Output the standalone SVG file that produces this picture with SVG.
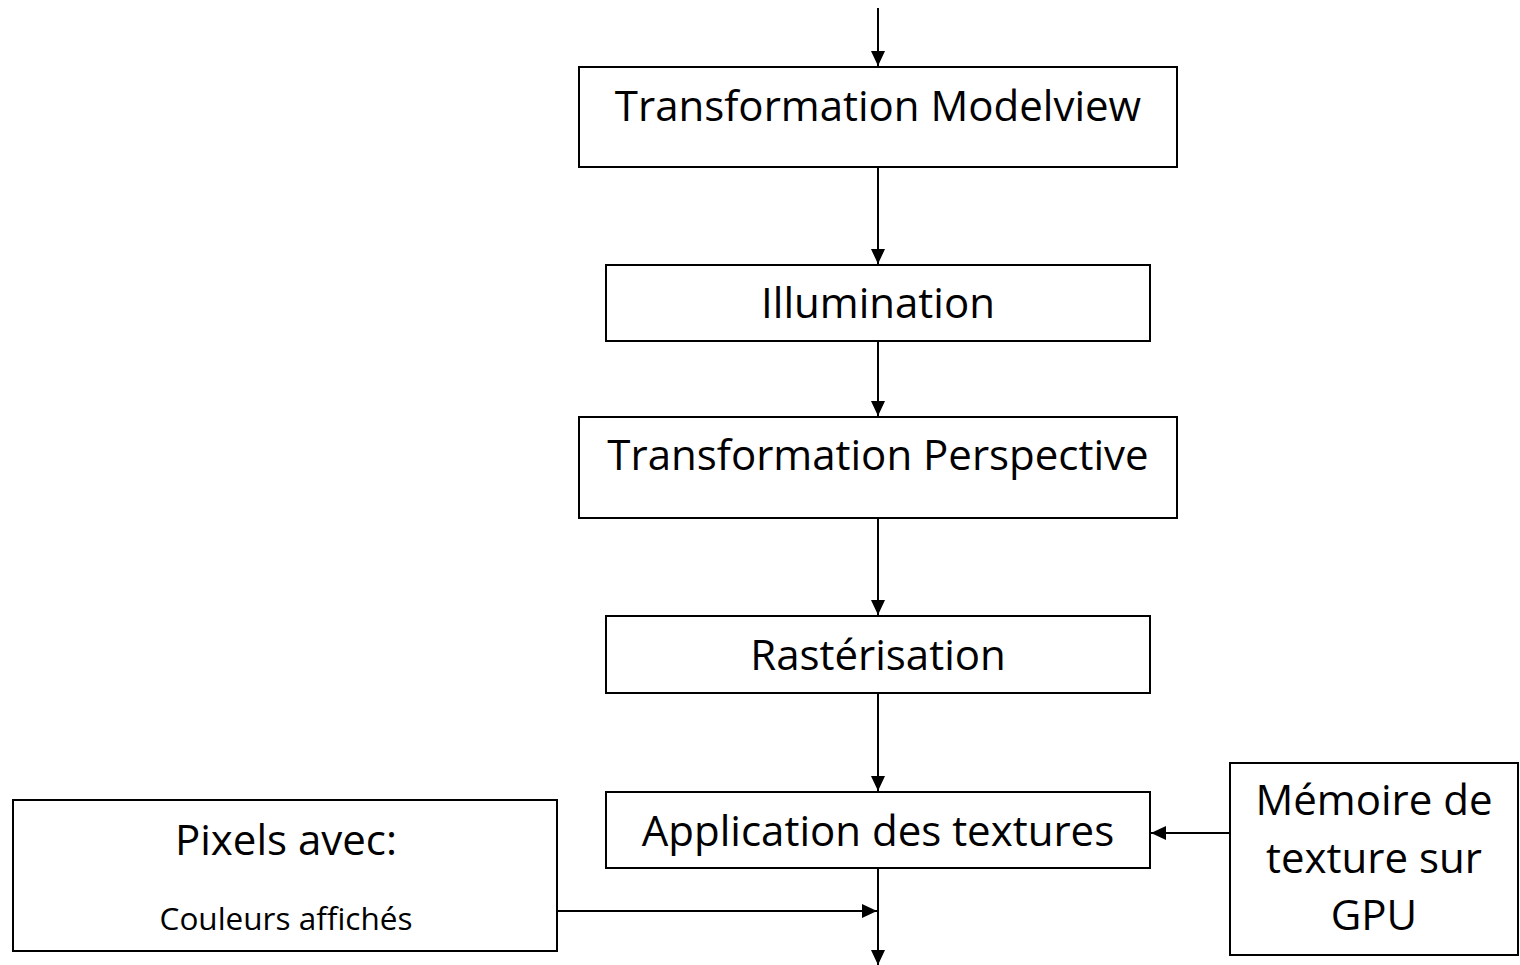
<svg xmlns="http://www.w3.org/2000/svg" width="1520" height="965" viewBox="0 0 1520 965">
<style>
.box{fill:#fff;stroke:#000;stroke-width:2}
.t{font-family:"Open Sans","Liberation Sans",sans-serif;font-size:42px;fill:#000;text-anchor:middle}
.s{font-size:31.5px}
.c{stroke:#000;stroke-width:2;fill:none;marker-end:url(#ah)}
</style>
<defs>
<marker id="ah" markerUnits="userSpaceOnUse" markerWidth="16" markerHeight="14" refX="15" refY="7" orient="auto">
<path d="M0,0 L15,7 L0,14 Z" fill="#000"/>
</marker>
</defs>
<rect width="1520" height="965" fill="#fff"/>
<g id="connectors">
<line class="c" x1="878" y1="8" x2="878" y2="66"/>
<line class="c" x1="878" y1="167" x2="878" y2="264"/>
<line class="c" x1="878" y1="341" x2="878" y2="416"/>
<line class="c" x1="878" y1="518" x2="878" y2="615"/>
<line class="c" x1="878" y1="693" x2="878" y2="791"/>
<line class="c" x1="1230" y1="833" x2="1151" y2="833"/>
<line class="c" x1="557" y1="911" x2="877" y2="911"/>
<line class="c" x1="878" y1="868" x2="878" y2="965"/>
</g>
<g id="modelview"><rect class="box" x="579" y="67" width="598" height="100"/><text class="t" x="878" y="121">Transformation Modelview</text></g>
<g id="illumination"><rect class="box" x="606" y="265" width="544" height="76"/><text class="t" x="878" y="318">Illumination</text></g>
<g id="perspective"><rect class="box" x="579" y="417" width="598" height="101"/><text class="t" x="878" y="470">Transformation Perspective</text></g>
<g id="rasterisation"><rect class="box" x="606" y="616" width="544" height="77"/><text class="t" x="878" y="670">Rastérisation</text></g>
<g id="textures"><rect class="box" x="606" y="792" width="544" height="76"/><text class="t" x="878" y="846">Application des textures</text></g>
<g id="memoire"><rect class="box" x="1230" y="763" width="288" height="192"/><text class="t" x="1374" y="815">Mémoire de</text><text class="t" x="1374" y="873">texture sur</text><text class="t" x="1374" y="930">GPU</text></g>
<g id="pixels"><rect class="box" x="13" y="800" width="544" height="151"/><text class="t" x="286" y="855">Pixels avec:</text><text class="t s" x="286" y="930">Couleurs affichés</text></g>
</svg>
